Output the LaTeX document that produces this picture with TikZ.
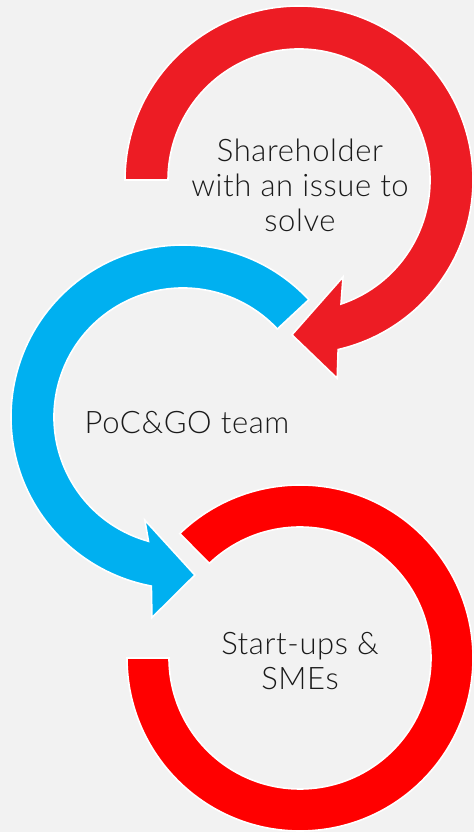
\documentclass[tikz,border=0pt]{standalone}
\usepackage{fontspec}
\setmainfont{Lato Light}[LetterSpace=2]
\definecolor{bg}{HTML}{F2F2F2}
\definecolor{topred}{HTML}{ED1C24}
\definecolor{botred}{HTML}{FF0000}
\definecolor{cyanblue}{HTML}{00B0F0}
\definecolor{ink}{HTML}{1A1A1A}
\begin{document}
\begin{tikzpicture}[x=1pt,y=1pt,
  band/.style={draw=white,line width=1.6pt,line join=miter},
  label/.style={text=ink,font=\fontsize{31}{35}\selectfont,align=center,inner sep=0pt}]
\fill[bg] (0,0) rectangle (474,832);
\useasboundingbox (0,0) rectangle (474,832);
% bottom red ring
\begin{scope}[shift={(300,174)}]
\filldraw[band,fill=botred] (180:173) arc[start angle=180,end angle=494,radius=173]
  -- (493.8:131) arc[start angle=493.8,end angle=180,radius=131] -- cycle;
\end{scope}
% blue arrow
\begin{scope}[shift={(183,415)}]
\filldraw[band,fill=cyanblue] (43:172) arc[start angle=43,end angle=259.4,radius=172]
  -- (261.2:203) -- (274.3:158.5) -- (249.7:110) -- (254.5:129)
  arc[start angle=254.5,end angle=43,radius=129] -- cycle;
\end{scope}
% top red arrow
\begin{scope}[shift={(299,652)}]
\filldraw[band,fill=topred] (180:174) arc[start angle=180,end angle=-77,radius=174]
  -- (-79.1:202) -- (-92.6:155) -- (-65.6:106.5) -- (-71.3:131)
  arc[start angle=-71.3,end angle=180,radius=131] -- cycle;
\end{scope}
\node[label,anchor=base] (share) at (300,600) {Shareholder\\with an issue to\\solve};
\node[label,anchor=base] (poc) at (187,398) {PoC\&GO team};
\node[label,anchor=base] (start) at (300,142) {Start-ups \&\\SMEs};
\end{tikzpicture}
\end{document}
